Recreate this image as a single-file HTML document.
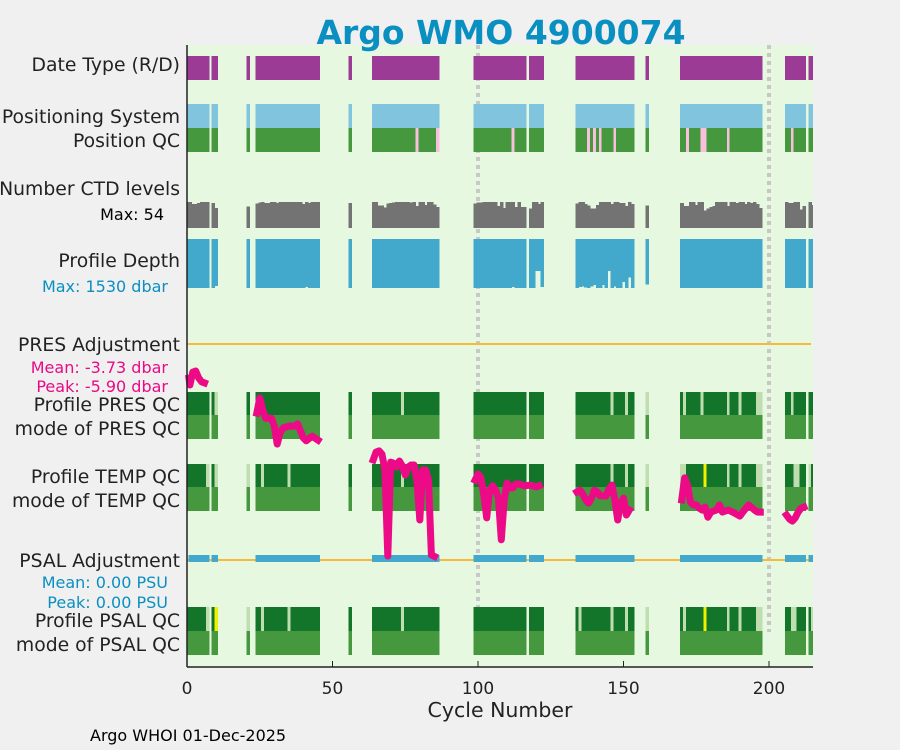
<!DOCTYPE html>
<html><head><meta charset="utf-8"><style>
body{margin:0;background:#f0f0f0;}
svg{display:block;font-family:"DejaVu Sans","Liberation Sans",sans-serif;}
#marks rect{shape-rendering:crispEdges;}
</style></head><body>
<svg id="chart" width="900" height="750">
<rect x="0" y="0" width="900" height="750" fill="#f0f0f0"/>
<rect x="187" y="45" width="626" height="622" fill="#e6f9e0"/>
<g id="marks"></g>
<text x="501" y="44" text-anchor="middle" font-size="33" font-weight="bold" fill="#0a8fc1">Argo WMO 4900074</text>
<g font-size="18.8" fill="#222" text-anchor="end">
<text x="180" y="71">Date Type (R/D)</text>
<text x="180" y="123">Positioning System</text>
<text x="180" y="147">Position QC</text>
<text x="180" y="195">Number CTD levels</text>
<text x="164" y="220" font-size="16" fill="#000">Max: 54</text>
<text x="180" y="267">Profile Depth</text>
<text x="168" y="292" font-size="16" fill="#0a8fc1">Max: 1530 dbar</text>
<text x="180" y="351">PRES Adjustment</text>
<text x="168" y="373" font-size="16" fill="#ea0a85">Mean: -3.73 dbar</text>
<text x="168" y="392" font-size="16" fill="#ea0a85">Peak: -5.90 dbar</text>
<text x="180" y="411">Profile PRES QC</text>
<text x="180" y="435">mode of PRES QC</text>
<text x="180" y="483">Profile TEMP QC</text>
<text x="180" y="507">mode of TEMP QC</text>
<text x="180" y="567">PSAL Adjustment</text>
<text x="168" y="588" font-size="16" fill="#0a8fc1">Mean: 0.00 PSU</text>
<text x="168" y="608" font-size="16" fill="#0a8fc1">Peak: 0.00 PSU</text>
<text x="180" y="627">Profile PSAL QC</text>
<text x="180" y="651">mode of PSAL QC</text>
</g>
<g id="axes"></g>
<text x="500" y="717" text-anchor="middle" font-size="20.5" fill="#222">Cycle Number</text>
<text x="90" y="741" font-size="16" fill="#000">Argo WHOI 01-Dec-2025</text>
</svg>
<script>
const cycles = [0,1,2,3,4,5,6,7,9,10,21,24,25,26,27,28,29,30,31,32,33,34,35,36,37,38,39,40,41,42,43,44,45,56,
64,65,66,67,68,69,70,71,72,73,74,75,76,77,78,79,80,81,82,83,84,85,86,
99,100,101,102,103,104,105,106,107,108,109,110,111,112,113,114,115,116,118,119,120,121,122,
134,135,136,137,138,139,140,141,142,143,144,145,146,147,148,149,150,151,152,153,158,
170,171,172,173,174,175,176,177,178,179,180,181,182,183,184,185,186,187,188,189,190,191,192,193,194,195,196,197,
206,207,208,209,210,211,212,214,215];
const ctdLevels = [54,54,50,50,52,54,54,54,52,42,45,51,53,54,52,52,54,54,52,54,54,54,54,54,54,54,54,50,54,52,54,54,54,52,
54,54,47,47,43,51,52,53,54,54,54,54,54,53,54,46,54,54,48,54,54,49,44,
51,53,53,54,54,54,54,54,46,54,42,54,54,54,44,54,44,44,40,54,54,50,54,51,
54,54,50,47,40,40,48,54,54,54,54,50,54,54,52,52,46,54,50,47,52,
46,46,54,54,48,54,54,36,40,44,46,54,54,54,54,46,54,54,52,54,54,50,54,52,54,50,42,54,
52,52,54,54,38,46,54,48,54];
const profDepth = [1530,1530,1530,1530,1530,1530,1530,1530,1530,1460,1530,1530,1530,1530,1530,1530,1530,1530,1530,1530,1530,1530,1530,1530,1530,1530,1530,1530,1500,1530,1530,1530,1530,1530,
1530,1530,1530,1530,1530,1530,1530,1530,1530,1530,1530,1530,1530,1530,1530,1530,1530,1530,1530,1530,1530,1530,1530,
1530,1530,1530,1530,1530,1530,1530,1530,1530,1530,1530,1530,1530,1500,1530,1530,1530,1530,1530,1530,1000,1000,1500,1530,
1500,1490,1520,1530,1480,1440,1530,1530,1440,1530,1000,1530,1480,1530,1530,1350,1530,1200,1530,1420,1530,
1530,1530,1530,1530,1530,1530,1530,1530,1530,1530,1530,1530,1530,1530,1530,1530,1530,1530,1530,1530,1530,1530,1530,1530,1530,1530,1530,1530,
1530,1530,1530,1530,1530,1530,1530,1530,1500];
const posQcBad = [79,86,112,138,140,142,147,172,177,178,186,208];
const presQcPale = [10,74,146,151,158,171,177,186,190,196,197,208];
const tempQcPale = [7,10,21,26,35,74,146,151,158,170,171,186,190,196,197,209,210,214];
const tempQcYellow = [178];
const psalQcPale = [7,21,26,35,74,135,146,151,158,171,186,190,196,197,208,209,215];
const psalQcYellow = [10,178];
const psalAdjMissing = [0,21,56,158];
const presAdjCycles = [0,1,2,3,4,5,6,9,
24,25,26,27,28,29,30,31,32,33,35,37,38,40,41,43,45];
const presAdjValues = [-0.95,-1.14,-0.78,-0.75,-0.94,-1.05,-1.08,-1.08,
-1.92,-1.5,-1.83,-2.06,-2.06,-2.06,-2.28,-2.78,-2.47,-2.33,-2.28,-2.28,-2.22,-2.61,-2.69,-2.56,-2.67];
const tempAdjSegs = [
 {c:[64,65,66,67,68,69,70,71,72,73,74,75,76,77,78,79,80,81,82,83,84,85],
  v:[-3.22,-3.0,-2.97,-3.06,-3.5,-5.89,-3.28,-3.31,-3.42,-3.25,-3.39,-3.64,-3.42,-3.36,-3.36,-3.78,-4.89,-3.5,-3.5,-3.78,-5.86,-5.9]},
 {c:[99,100,101,102,103,104,105,106,107,108,109,110,111,112,113,114,116,118,120,121],
  v:[-3.78,-3.61,-3.72,-4.19,-4.83,-4.06,-3.94,-4.06,-4.28,-5.44,-4.33,-3.86,-4.0,-4.0,-3.89,-3.89,-3.94,-3.92,-3.97,-3.94]},
 {c:[134,135,136,137,138,139,140,141,142,143,144,145,146,147,148,149,150,151,152],
  v:[-4.11,-4.06,-4.17,-4.33,-4.42,-4.28,-4.06,-4.11,-4.22,-4.22,-4.22,-4.03,-3.92,-4.33,-4.89,-4.42,-4.28,-4.75,-4.61]},
 {c:[170,171,172,173,174,175,176,177,178,179,180,182,183,184,186,188,190,191,193,195,196,197],
  v:[-4.33,-3.72,-3.92,-4.39,-4.47,-4.47,-4.56,-4.61,-4.53,-4.81,-4.67,-4.61,-4.47,-4.67,-4.61,-4.69,-4.78,-4.67,-4.47,-4.61,-4.67,-4.67]},
 {c:[206,207,208,209,210,211,212],
  v:[-4.75,-4.86,-4.92,-4.83,-4.67,-4.56,-4.53]}];
const xTicks = [0,50,100,150,200];

const NS='http://www.w3.org/2000/svg';
const marks=document.getElementById('marks');
const axes=document.getElementById('axes');
const X0=187, XR=813, PX=2.91;
function xs(c){return X0+c*PX;}
function ys(v){return 344 - v*36;}
function mk(tag,attrs,parent){const e=document.createElementNS(NS,tag);for(const k in attrs)e.setAttribute(k,attrs[k]);parent.appendChild(e);return e;}
function cellRect(c,y,h,fill,name){
  const a=Math.max(X0,xs(c-0.5)), b=Math.min(XR,xs(c+0.5)+0.6);
  const r=mk('rect',{x:a,y:y,width:b-a,height:h,fill:fill},marks);
  
  
  return r;
}
[100,200].forEach(c=>{
  const l=mk('line',{x1:xs(c),x2:xs(c),y1:45,y2:632,stroke:'#c8c8c8','stroke-width':4,'stroke-dasharray':'4,4'},marks);
  
  
});
[344,560].forEach((y,i)=>{
  const l=mk('line',{x1:X0,x2:XR-2,y1:y,y2:y,stroke:'#f5b93b','stroke-width':2},marks);
  
  
});
cycles.forEach((c,i)=>{
  cellRect(c,56,24,'#9b3b96','date-type-cell');
  cellRect(c,104,24,'#80c4de','positioning-system-cell');
  cellRect(c,128,24,posQcBad.includes(c)?'#f8c0dc':'#46983f','position-qc-cell');
  const h=ctdLevels[i]/54*26;
  cellRect(c,228-h,h,'#737373','ctd-levels-bar');
  const d=profDepth[i]/1530*49;
  cellRect(c,239,d,'#42a9cc','profile-depth-bar');
  cellRect(c,392,23,presQcPale.includes(c)?'#c0ddb0':'#137529','profile-pres-qc-cell');
  cellRect(c,415,24,'#46983f','mode-pres-qc-cell');
  cellRect(c,464,23,tempQcYellow.includes(c)?'#f0f000':(tempQcPale.includes(c)?'#c0ddb0':'#137529'),'profile-temp-qc-cell');
  cellRect(c,487,24,'#46983f','mode-temp-qc-cell');
  if(!psalAdjMissing.includes(c)) cellRect(c,555,7,'#42a9cc','psal-adjustment-bar');
  cellRect(c,607,24,psalQcYellow.includes(c)?'#f0f000':(psalQcPale.includes(c)?'#c0ddb0':'#137529'),'profile-psal-qc-cell');
  cellRect(c,631,24,'#46983f','mode-psal-qc-cell');
});
function drawLine(cs,vs,name){
  const pts=cs.map((c,i)=>Math.max(X0+2,xs(c)).toFixed(1)+','+ys(vs[i]).toFixed(1)).join(' ');
  const p=mk('polyline',{points:pts,fill:'none',stroke:'#ec0a87','stroke-width':7,'stroke-linejoin':'round','stroke-linecap':'square'},marks);
  
  
}
drawLine(presAdjCycles.slice(0,7),presAdjValues.slice(0,7),'pres-adjustment-line');
drawLine(presAdjCycles.slice(7,8),presAdjValues.slice(7,8),'pres-adjustment-line');
drawLine(presAdjCycles.slice(8),presAdjValues.slice(8),'pres-adjustment-line');
tempAdjSegs.forEach(s=>drawLine(s.c,s.v,'pres-adjustment-line'));
let l=mk('line',{x1:X0,x2:X0,y1:45,y2:667,stroke:'#222','stroke-width':1.5},axes);


l=mk('line',{x1:X0,x2:XR,y1:667,y2:667,stroke:'#222','stroke-width':1.5},axes);


xTicks.forEach(t=>{
  const tk=mk('line',{x1:xs(t),x2:xs(t),y1:667,y2:661,stroke:'#222','stroke-width':1},axes);
  
  
  const tx=mk('text',{x:xs(t),y:694,'text-anchor':'middle','font-size':17,fill:'#222'},axes);
  tx.textContent=t;
  
  
});
</script>
</body></html>
